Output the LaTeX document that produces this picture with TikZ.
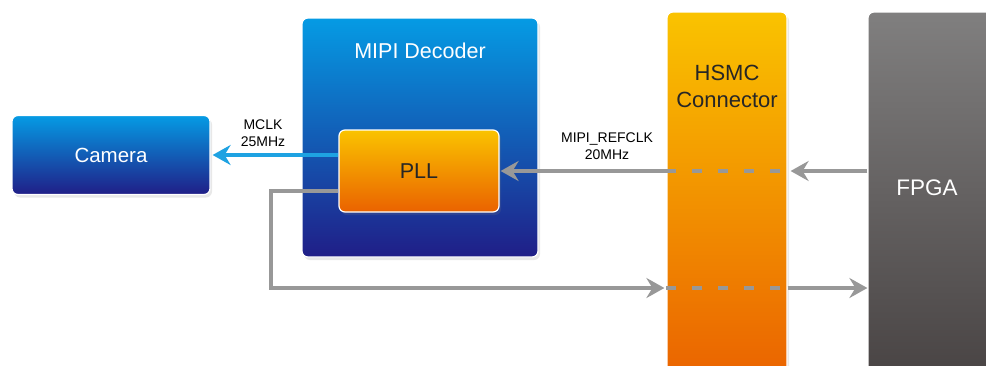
\documentclass[tikz,border=0pt]{standalone}
\usepackage{fontspec}
\setmainfont{Liberation Sans}
\usepackage{tikz}
\usetikzlibrary{arrows.meta,shadows}

\definecolor{bluetop}{RGB}{5,155,228}
\definecolor{bluebot}{RGB}{32,30,135}
\definecolor{orgtop}{RGB}{250,195,0}
\definecolor{orgbot}{RGB}{234,98,0}
\definecolor{graytop}{RGB}{128,127,127}
\definecolor{graybot}{RGB}{72,67,67}
\definecolor{wiregray}{RGB}{152,152,152}
\definecolor{clkblue}{RGB}{30,162,226}

\tikzset{
  blk/.style={rectangle,rounded corners=6pt,draw=white,line width=1.2pt,
    drop shadow={opacity=0.18,shadow xshift=2pt,shadow yshift=-3pt},inner sep=0pt},
  blueblk/.style={blk,top color=bluetop,bottom color=bluebot,text=white},
  orgblk/.style={blk,top color=orgtop,bottom color=orgbot,text=black!85},
  grayblk/.style={blk,top color=graytop,bottom color=graybot,text=white},
  wire/.style={draw=wiregray,line width=3.6pt},
  clk/.style={draw=clkblue,line width=3.2pt},
  tip/.style={-{Stealth[length=18pt,width=20pt,inset=6pt]}},
  inhsmc/.style={wire,dash pattern=on 10pt off 16pt},
  sig/.style={font=\fontsize{14}{17}\selectfont,align=center}
}

\begin{document}
\begin{tikzpicture}[x=1pt,y=-1pt]
\useasboundingbox (0,0) rectangle (986,365);
\clip (0,0) rectangle (986,365);

\node[blueblk,minimum width=198pt,minimum height=79pt,font=\fontsize{20.5}{24}\selectfont] (camera) at (111,155) {Camera};
\node[blueblk,minimum width=236pt,minimum height=239pt] (decoder) at (420,137.5) {};
\node[text=white,font=\fontsize{21.5}{25}\selectfont] (declabel) at (420,51) {MIPI Decoder};
\node[orgblk,minimum width=160pt,minimum height=82pt,font=\fontsize{21.5}{25}\selectfont] (pll) at (419,171) {PLL};
\node[orgblk,minimum width=120pt,minimum height=370pt] (hsmc) at (727,197) {};
\node[text=black!85,align=center,font=\fontsize{22}{27}\selectfont] (hsmclabel) at (727,86) {HSMC\\Connector};
\node[grayblk,minimum width=130pt,minimum height=370pt] (fpga) at (933,197) {};
\node[text=white,font=\fontsize{22.5}{26}\selectfont] (fpgalabel) at (927,188) {FPGA};

\coordinate (turn1) at (271,191);
\coordinate (turn2) at (271,288);

\draw[clk,tip] (pll.west |- camera.east) -- ([xshift=2pt]camera.east);
\node[sig] (mclk) at (263,133) {MCLK\\25MHz};

\draw[wire,tip] (fpga.west |- pll.east) -- ([xshift=3pt]hsmc.east |- pll.east);
\draw[inhsmc] (hsmc.west |- pll.east) -- (hsmc.east |- pll.east);
\draw[wire,tip] ([xshift=1pt]hsmc.west |- pll.east) -- ([xshift=1pt]pll.east);
\node[sig] (refclk) at (607,146) {MIPI\_REFCLK\\20MHz};

\draw[wire,tip] (pll.west |- turn1) -- (turn1) -- (turn2) -- ([xshift=-2pt]hsmc.west |- turn2);
\draw[inhsmc] (hsmc.west |- turn2) -- (hsmc.east |- turn2);
\draw[wire,tip] (hsmc.east |- turn2) -- (fpga.west |- turn2);
\end{tikzpicture}
\end{document}
